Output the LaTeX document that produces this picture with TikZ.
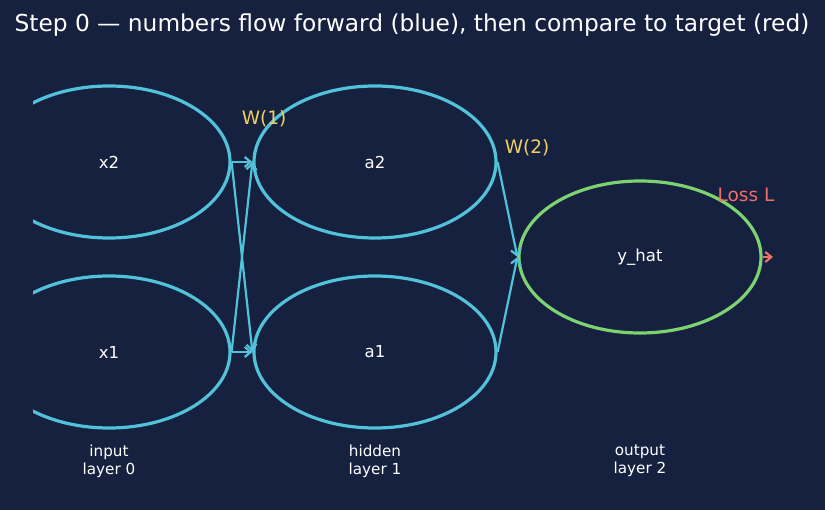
\documentclass[tikz,border=0pt]{standalone}
\usepackage{fontspec}
\setmainfont{DejaVu Sans}
\usetikzlibrary{shapes.geometric,arrows.meta}
\definecolor{bgnavy}{RGB}{21,33,62}
\definecolor{wirecyan}{RGB}{82,193,218}
\definecolor{outgreen}{RGB}{126,211,113}
\definecolor{wyellow}{RGB}{240,208,100}
\definecolor{lossred}{RGB}{238,110,110}
\tikzset{
	neuron/.style={ellipse,draw=wirecyan,line width=3.2pt,minimum width=242pt,minimum height=152pt,inner sep=0pt,text=white,font=\fontsize{16.5}{19}\selectfont},
	outneuron/.style={neuron,draw=outgreen},
	wire/.style={-{Straight Barb[length=6pt,width=10pt]},wirecyan,line width=2.2pt},
	weighttag/.style={font=\fontsize{18.5}{22}\selectfont},
	layertag/.style={text=white,align=center,font=\fontsize{15.2}{18}\selectfont}
}
\begin{document}
\begin{tikzpicture}[x=1pt,y=-1pt]
		\fill[bgnavy] (0,0) rectangle (825,510);
		\useasboundingbox (0,0) rectangle (825,510);

		\node[text=white,font=\fontsize{23.3}{27}\selectfont] (title) at (412,25) {Step 0 — numbers flow forward (blue), then compare to target (red)};

		\begin{scope}
			\clip (33,40) rectangle (825,500);
			\node[neuron] (x2) at (109,162) {x2};
			\node[neuron] (x1) at (109,352) {x1};
		\end{scope}
		\node[neuron] (a2) at (375,162) {a2};
		\node[neuron] (a1) at (375,352) {a1};
		\node[outneuron] (yhat) at (640,257) {y\_hat};

		\draw[wire] (x2.east) -- (a2.west);
		\draw[wire] (x2.east) -- (a1.west);
		\draw[wire] (x1.east) -- (a2.west);
		\draw[wire] (x1.east) -- (a1.west);
		\draw[wire] (a2.east) -- (yhat.west);
		\draw[wire] (a1.east) -- (yhat.west);

		\coordinate (lossend) at (773,257);
		\draw[wire,lossred] (yhat.east) -- (lossend);

		\node[weighttag,text=wyellow] (w1) at (264,119) {W(1)};
		\node[weighttag,text=wyellow] (w2) at (527,148) {W(2)};
		\node[weighttag,text=lossred] (loss) at (746,195) {Loss L};

		\node[layertag] (tag0) at (109,461) {input\\layer 0};
		\node[layertag] (tag1) at (375,461) {hidden\\layer 1};
		\node[layertag] (tag2) at (640,461) {output\\layer 2};
	\end{tikzpicture}
\end{document}
